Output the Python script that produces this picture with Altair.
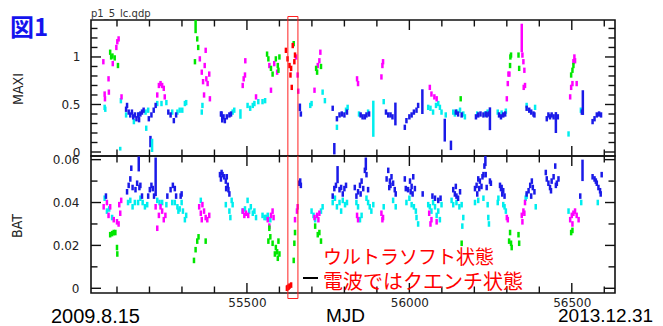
import altair as alt
import pandas as pd

# ---------------- data ----------------
# MAXI light curve: [MJD, rate] per spectral state
maxi_blue = [[55128,0.45],[55131,0.49],[55136,0.42],[55141,0.39],[55146,0.42],[55150,0.37],[55155,0.39],[55160,0.35],
             [55165,0.39],[55168,0.34],[55172,0.40],[55177,0.42],[55182,0.44],[55198,0.35],[55206,0.39],[55213,0.44],
             [55219,0.49],[55258,0.42],[55265,0.39],[55275,0.33],[55282,0.39],[55420,0.40],[55422,0.40],[55428,0.37],
             [55432,0.33],[55438,0.37],[55446,0.39],[55451,0.40],[55666,0.40],[55764,0.46],[55777,0.35],[55785,0.39],
             [55792,0.40],[55800,0.39],[55808,0.42],[55850,0.39],[55856,0.37],[55863,0.37],[55868,0.39],[55876,0.40],
             [55928,0.42],[55935,0.39],[55942,0.39],[55948,0.37],[55986,0.26],[55991,0.33],[56000,0.37],[56007,0.39],
             [56014,0.42],[56022,0.44],[56027,0.49],[56143,0.42],[56150,0.40],[56161,0.39],[56205,0.37],[56212,0.39],
             [56219,0.40],[56228,0.39],[56236,0.40],[56238,0.39],[56245,0.40],[56276,0.39],[56282,0.37],[56289,0.39],
             [56295,0.40],[56361,0.46],[56369,0.44],[56375,0.42],[56382,0.40],[56385,0.39],[56423,0.35],[56428,0.39],
             [56433,0.37],[56438,0.39],[56444,0.37],[56457,0.37],[56531,0.42],[56564,0.32],[56570,0.35],[56577,0.39],
             [56584,0.40],[56590,0.39]]
maxi_cyan = [[55062,0.47],[55064,0.45],[55112,0.54],[55128,0.39],[55152,0.32],[55167,0.39],[55188,0.42],[55190,0.25],
             [55196,0.44],[55224,0.51],[55237,0.51],[55252,0.52],[55270,0.42],[55286,0.42],[55293,0.44],[55301,0.44],
             [55309,0.51],[55313,0.52],[55361,0.42],[55363,0.49],[55456,0.42],[55461,0.44],[55502,0.49],[55510,0.46],
             [55518,0.49],[55523,0.51],[55535,0.53],[55548,0.53],[55556,0.54],[55695,0.49],[55699,0.51],[55733,0.63],
             [55740,0.54],[55777,0.26],[55805,0.44],[55810,0.47],[55845,0.40],[55873,0.42],[55921,0.53],[56058,0.47],
             [56065,0.46],[56073,0.42],[56082,0.49],[56089,0.51],[56094,0.47],[56099,0.42],[56112,0.39],[56135,0.42],
             [56140,0.40],[56147,0.42],[56156,0.44],[56166,0.40],[56171,0.37],[56209,0.40],[56233,0.40],[56241,0.42],
             [56272,0.42],[56284,0.41],[56297,0.43],[56361,0.49],[56387,0.47],[56490,0.19],[56528,0.44]]
maxi_magenta = [[55058,0.95],[55062,0.61],[55063,0.56],[55074,0.77],[55075,0.63],[55087,0.93],[55098,1.10],[55101,1.16],
                [55105,1.19],[55114,0.58],[55224,0.60],[55229,0.70],[55234,0.72],[55239,0.70],[55244,0.67],[55247,0.58],
                [55355,0.98],[55361,0.84],[55365,0.74],[55368,0.60],[55370,0.91],[55373,1.07],[55375,0.77],[55379,0.72],
                [55384,0.82],[55386,0.56],[55487,0.70],[55490,0.77],[55494,0.81],[55495,0.96],[55528,0.58],[55569,0.91],
                [55574,0.65],[55584,0.93],[55593,0.84],[55651,1.00],[55656,0.81],[55658,0.64],[55708,0.65],[55718,0.91],
                [55723,0.96],[55726,1.05],[55839,0.77],[55842,0.72],[55914,0.79],[55917,0.91],[55919,0.95],[56063,0.68],
                [56068,0.61],[56077,0.58],[56084,0.56],[56300,0.56],[56303,0.72],[56305,0.82],[56308,0.82],[56348,1.02],
                [56351,0.95],[56354,0.86],[56352,0.68],[56356,0.70],[56495,0.58],[56498,0.68],[56502,0.72],[56505,0.95],
                [56508,1.00],[56510,0.96],[56515,0.72]]
maxi_green = [[55079,1.05],[55082,1.00],[55086,1.01],[55093,0.99],[55103,0.91],[55340,0.95],[55347,1.19],[55350,1.10],
              [55562,1.03],[55566,0.98],[55574,0.88],[55579,0.82],[55589,0.98],[55595,0.91],[55597,0.86],[55600,1.00],
              [55644,1.14],[55713,0.88],[55716,0.84],[55728,0.90],[56158,0.56],[56310,0.91],[56311,1.00],[56313,1.02],
              [56336,1.02],[56338,0.88],[56498,0.81],[56502,0.86],[56505,0.91]]
maxi_red = [[55620,1.07],[55625,0.98],[55631,0.91],[55634,0.81],[55636,0.88],[55638,0.68],[55641,1.12],[55646,0.95],
            [55648,1.02]]
maxi_err = 0.028
# points with large error bars: [MJD, rate, error, state]
maxi_long = [[55203,0.11,0.06,"blue"],[55769,0.035,0.06,"blue"],[55957,0.40,0.12,"blue"],[56040,0.53,0.13,"blue"],
             [56109,0.23,0.12,"blue"],[56128,0.07,0.05,"blue"],[56248,0.35,0.12,"blue"],[56451,0.31,0.11,"blue"],
             [56534,0.52,0.13,"blue"],[55663,0.47,0.04,"blue"],[55424,0.35,0.04,"blue"],
             [55110,0.035,0.02,"cyan"],[55208,0.07,0.07,"cyan"],[55480,0.40,0.05,"cyan"],[55889,0.35,0.19,"cyan"],
             [56346,1.20,0.15,"magenta"],[55342,1.32,0.07,"green"]]

# BAT light curve
bat_blue = [[55066,0.043],[55131,0.045],[55136,0.048],[55141,0.051],[55144,0.056],[55148,0.047],[55157,0.046],[55162,0.049],
            [55169,0.047],[55172,0.048],[55177,0.043],[55196,0.043],[55201,0.046],[55206,0.048],[55210,0.0465],[55214,0.043],
            [55255,0.043],[55265,0.046],[55272,0.048],[55278,0.0465],[55282,0.043],[55296,0.043],[55299,0.044],[55417,0.053],
            [55420,0.051],[55422,0.054],[55425,0.053],[55430,0.052],[55435,0.050],[55436,0.0465],[55438,0.052],[55441,0.048],
            [55443,0.046],[55446,0.044],[55661,0.049],[55664,0.050],[55666,0.048],[55764,0.043],[55769,0.0465],[55774,0.048],
            [55785,0.046],[55790,0.047],[55795,0.044],[55800,0.0465],[55805,0.048],[55832,0.047],[55837,0.043],[55842,0.045],
            [55848,0.048],[55850,0.044],[55853,0.050],[55858,0.0465],[55863,0.055],[55868,0.053],[55873,0.046],[55930,0.051],
            [55935,0.055],[55938,0.047],[55940,0.050],[55942,0.048],[55945,0.052],[55950,0.049],[55955,0.046],[55958,0.044],
            [55986,0.051],[55989,0.0465],[55996,0.046],[56002,0.050],[56004,0.045],[56007,0.0475],[56010,0.044],[56012,0.052],
            [56017,0.0465],[56041,0.044],[56071,0.043],[56079,0.042],[56089,0.041],[56096,0.042],[56135,0.046],[56140,0.044],
            [56143,0.0475],[56145,0.043],[56150,0.042],[56156,0.045],[56202,0.0465],[56207,0.048],[56209,0.044],[56212,0.051],
            [56215,0.0465],[56217,0.050],[56222,0.0475],[56225,0.052],[56228,0.053],[56231,0.057],[56235,0.053],[56238,0.047],
            [56248,0.050],[56251,0.049],[56279,0.048],[56282,0.0465],[56284,0.047],[56286,0.044],[56289,0.0455],[56293,0.043],
            [56361,0.044],[56367,0.0455],[56372,0.048],[56375,0.043],[56377,0.050],[56380,0.047],[56385,0.045],[56420,0.054],
            [56423,0.051],[56428,0.049],[56433,0.047],[56436,0.0455],[56438,0.050],[56444,0.052],[56449,0.057],[56451,0.048],
            [56454,0.049],[56459,0.051],[56526,0.043],[56564,0.052],[56570,0.051],[56574,0.050],[56577,0.049],[56582,0.047],
            [56587,0.0455],[56589,0.044],[56592,0.053]]
bat_cyan = [[55062,0.042],[55069,0.036],[55076,0.037],[55085,0.033],[55134,0.040],[55141,0.041],[55148,0.038],[55155,0.040],
            [55165,0.040],[55172,0.042],[55179,0.040],[55186,0.038],[55193,0.039],[55224,0.041],[55231,0.040],[55239,0.040],
            [55252,0.039],[55270,0.040],[55278,0.040],[55286,0.038],[55289,0.036],[55293,0.037],[55299,0.040],[55303,0.036],
            [55309,0.032],[55313,0.034],[55358,0.041],[55435,0.039],[55446,0.036],[55449,0.033],[55453,0.041],[55456,0.039],
            [55487,0.036],[55494,0.037],[55502,0.041],[55507,0.036],[55512,0.038],[55518,0.035],[55523,0.036],[55528,0.033],
            [55548,0.034],[55554,0.033],[55559,0.033],[55564,0.034],[55572,0.032],[55699,0.036],[55705,0.034],[55710,0.032],
            [55728,0.036],[55733,0.038],[55764,0.040],[55771,0.042],[55777,0.038],[55785,0.040],[55790,0.036],[55795,0.041],
            [55802,0.039],[55808,0.040],[55837,0.040],[55842,0.038],[55848,0.032],[55853,0.034],[55868,0.042],[55873,0.040],
            [55878,0.038],[55883,0.036],[55889,0.039],[55921,0.038],[55950,0.041],[55958,0.038],[55991,0.040],[56000,0.042],
            [56007,0.039],[56014,0.038],[56020,0.036],[56022,0.033],[56027,0.030],[56058,0.039],[56063,0.038],[56068,0.036],
            [56073,0.040],[56079,0.038],[56084,0.034],[56089,0.036],[56094,0.032],[56099,0.039],[56130,0.041],[56135,0.039],
            [56145,0.040],[56154,0.038],[56161,0.039],[56163,0.029],[56166,0.033],[56202,0.040],[56212,0.041],[56228,0.042],
            [56241,0.039],[56243,0.033],[56245,0.030],[56272,0.040],[56274,0.042],[56289,0.039],[56293,0.038],[56297,0.036],
            [56358,0.042],[56361,0.043],[56389,0.038],[56490,0.036],[56529,0.040],[56580,0.040]]
bat_magenta = [[55059,0.038],[55069,0.040],[55074,0.034],[55079,0.038],[55090,0.032],[55100,0.031],[55105,0.030],[55107,0.039],
               [55110,0.035],[55113,0.041],[55219,0.038],[55224,0.028],[55229,0.034],[55234,0.038],[55239,0.036],[55244,0.032],
               [55249,0.034],[55353,0.038],[55358,0.035],[55361,0.032],[55363,0.039],[55368,0.036],[55373,0.033],[55378,0.032],
               [55384,0.034],[55487,0.036],[55492,0.034],[55497,0.035],[55504,0.034],[55564,0.032],[55569,0.029],[55574,0.034],
               [55579,0.036],[55582,0.033],[55648,0.032],[55654,0.036],[55656,0.038],[55708,0.033],[55716,0.034],[55720,0.032],
               [55723,0.035],[55839,0.034],[55842,0.032],[55914,0.035],[55917,0.032],[55919,0.033],[56061,0.035],[56065,0.030],
               [56068,0.032],[56084,0.031],[56300,0.033],[56303,0.032],[56346,0.034],[56348,0.031],[56351,0.036],[56354,0.035],
               [56356,0.040],[56495,0.032],[56500,0.034],[56502,0.030],[56505,0.035],[56510,0.036],[56515,0.034],[56521,0.032]]
bat_green = [[55079,0.025],[55085,0.0255],[55090,0.026],[55095,0.026],[55100,0.019],[55101,0.016],[55337,0.013],[55342,0.018],
             [55347,0.022],[55351,0.024],[55373,0.022],[55566,0.022],[55569,0.028],[55572,0.024],[55579,0.021],[55586,0.016],
             [55589,0.019],[55593,0.017],[55595,0.014],[55597,0.022],[55600,0.016],[55644,0.013],[55646,0.021],[55648,0.026],
             [55710,0.029],[55718,0.025],[55723,0.026],[55728,0.022],[56161,0.021],[56307,0.022],[56310,0.026],[56313,0.021],
             [56315,0.019],[56336,0.025],[56338,0.021],[56498,0.026],[56502,0.027]]
bat_red = [[55623,0.0],[55625,0.0003],[55628,0.0005],[55631,0.001],[55636,0.0015]]
bat_err = 0.0013
bat_long = [[55167,0.058,0.0035,"blue"],[55219,0.052,0.009,"blue"],[55779,0.053,0.004,"blue"],
            [55866,0.058,0.003,"blue"],[56234,0.060,0.003,"blue"],[56533,0.055,0.005,"blue"]]

states = ["blue", "cyan", "magenta", "green", "red"]
state_colors = ["#1a1ae8", "#00eeee", "#ff00ff", "#00e600", "#ff0000"]

x_major_ticks = [55500, 56000, 56500]
x_minor_ticks = [55100, 55200, 55300, 55400, 55600, 55700, 55800, 55900, 56100, 56200, 56300, 56400, 56600]
maxi_major_ticks = [0, 0.5, 1.0]
maxi_minor_ticks = [0.1, 0.2, 0.3, 0.4, 0.6, 0.7, 0.8, 0.9, 1.1, 1.2, 1.3]
bat_major_ticks = [0, 0.02, 0.04, 0.06]
bat_minor_ticks = [0.01, 0.03, 0.05]
box_mjd = [55626, 55657]


def build(groups, long_rows, err):
    frames = []
    for st, rows in groups:
        frames.append(pd.DataFrame({"mjd": [r[0] for r in rows], "v": [r[1] for r in rows],
                                    "e": err, "state": st}))
    frames.append(pd.DataFrame({"mjd": [r[0] for r in long_rows], "v": [r[1] for r in long_rows],
                                "e": [r[2] for r in long_rows], "state": [r[3] for r in long_rows]}))
    return pd.concat(frames, ignore_index=True)


maxi_df = build([("cyan", maxi_cyan), ("magenta", maxi_magenta), ("blue", maxi_blue),
                 ("green", maxi_green), ("red", maxi_red)], maxi_long, maxi_err)
bat_df = build([("cyan", bat_cyan), ("magenta", bat_magenta), ("blue", bat_blue),
                ("green", bat_green), ("red", bat_red)], bat_long, bat_err)

# ---------------- layout ----------------
W, H1, H2 = 524, 136, 137
FRAME = "#111111"
xscale = alt.Scale(domain=[55020, 56633], nice=False, zero=False)
y1scale = alt.Scale(domain=[-0.042, 1.389], nice=False, zero=False)
y2scale = alt.Scale(domain=[-0.0022, 0.0617], nice=False, zero=False)
color = alt.Color("state:N", scale=alt.Scale(domain=states, range=state_colors), legend=None)

lab = dict(labelFont="DejaVu Sans", labelFontSize=12, labelColor="#222222", ticks=False, domain=False,
           grid=False, title=None, labelFlush=False)
x_axis_top = None
x_axis_bot = alt.Axis(values=x_major_ticks, format="d", labelPadding=4, **lab)
y_axis_top = alt.Axis(values=maxi_major_ticks, format="~g", labelPadding=11, **lab)
y_axis_bot = alt.Axis(values=bat_major_ticks, format="~g", labelPadding=12, **lab)


def points(df, yscale, xaxis, yaxis):
    return alt.Chart(df).transform_calculate(
        lo="datum.v - datum.e", hi="datum.v + datum.e"
    ).mark_rule(strokeWidth=2.5, clip=True).encode(
        x=alt.X("mjd:Q", scale=xscale, axis=xaxis),
        y=alt.Y("lo:Q", scale=yscale, axis=yaxis),
        y2="hi:Q",
        color=color,
    )


def xticks(vals, y0, y1, xaxis):
    return alt.Chart(pd.DataFrame({"mjd": vals})).mark_rule(color=FRAME, strokeWidth=1.4).encode(
        x=alt.X("mjd:Q", scale=xscale, axis=xaxis), y=alt.value(y0), y2=alt.value(y1))


def yticks(vals, x0, x1, yscale, yaxis):
    return alt.Chart(pd.DataFrame({"v": vals})).mark_rule(color=FRAME, strokeWidth=1.4).encode(
        y=alt.Y("v:Q", scale=yscale, axis=yaxis), x=alt.value(x0), x2=alt.value(x1))


def frame_ticks(H, yscale, xaxis, yaxis, ymaj, ymin):
    return [
        xticks(x_major_ticks, 0, 10, xaxis), xticks(x_minor_ticks, 0, 6.5, xaxis),
        xticks(x_major_ticks, H - 10, H, xaxis), xticks(x_minor_ticks, H - 6.5, H, xaxis),
        yticks(ymaj, 0, 10, yscale, yaxis), yticks(ymin, 0, 6.5, yscale, yaxis),
        yticks(ymaj, W - 10, W, yscale, yaxis), yticks(ymin, W - 6.5, W, yscale, yaxis),
    ]


def text(t, x, y, size, font, col="#000000", weight="normal", angle=0, align="left", baseline="alphabetic"):
    return alt.Chart(pd.DataFrame({"t": [t]})).mark_text(
        align=align, baseline=baseline, font=font, fontSize=size, color=col,
        fontWeight=weight, angle=angle).encode(x=alt.value(x), y=alt.value(y), text="t:N")


def box_sides(y0, y1, xaxis):
    return alt.Chart(pd.DataFrame({"mjd": box_mjd})).mark_rule(color="#ff2020", strokeWidth=1).encode(
        x=alt.X("mjd:Q", scale=xscale, axis=xaxis), y=alt.value(y0), y2=alt.value(y1))


def box_edge(y, xaxis):
    return alt.Chart(pd.DataFrame({"a": [box_mjd[0]], "b": [box_mjd[1]]})).mark_rule(
        color="#ff2020", strokeWidth=1).encode(
        x=alt.X("a:Q", scale=xscale, axis=xaxis), x2="b:Q", y=alt.value(y))


JP = "Noto Sans CJK JP"
LS = "Liberation Sans"
NARROW = "Liberation Sans Narrow, DejaVu Sans Condensed, Liberation Sans"

top = alt.layer(
    points(maxi_df, y1scale, x_axis_top, y_axis_top),
    *frame_ticks(H1, y1scale, x_axis_top, y_axis_top, maxi_major_ticks, maxi_minor_ticks),
    box_sides(-3.5, H1, x_axis_top), box_edge(-3.5, x_axis_top),
    text("p1_5_lc.qdp", 0, -3, 10, "DejaVu Sans", "#333333"),
    text("図1", -81, 16, 24, JP, "#1414ee", "bold"),
    text("MAXI", -72.5, 69, 14, NARROW, "#222222", angle=270, align="center", baseline="middle"),
).properties(width=W, height=H1)

bottom = alt.layer(
    points(bat_df, y2scale, x_axis_bot, y_axis_bot),
    *frame_ticks(H2, y2scale, x_axis_bot, y_axis_bot, bat_major_ticks, bat_minor_ticks),
    box_sides(0, H2 + 5.5, x_axis_bot), box_edge(H2 + 5.5, x_axis_bot),
    text("BAT", -73, 70, 14, NARROW, "#222222", angle=270, align="center", baseline="middle"),
    text("2009.8.15", -40, 167, 20, LS),
    text("MJD", 235, 166, 19, LS),
    text("2013.12.31", 467, 166, 19, LS),
    text("ウルトラソフト状態", 232, 107.5, 19, JP, "#ff0000"),
    text("電波ではクエンチ状態", 232, 132.5, 20, JP, "#ff0000"),
    alt.Chart(pd.DataFrame({"t": [0]})).mark_rule(color="#000000", strokeWidth=2).encode(
        x=alt.value(212), x2=alt.value(227), y=alt.value(122)),
).properties(width=W, height=H2)

chart = alt.vconcat(top, bottom, spacing=0, bounds="flush").properties(
    padding={"left": 1, "top": 0, "right": 0, "bottom": 0}
).configure_view(stroke=FRAME, strokeWidth=1.6).configure_axis(grid=False)

chart.save("out.html", embed_options={"renderer": "svg", "actions": False})
